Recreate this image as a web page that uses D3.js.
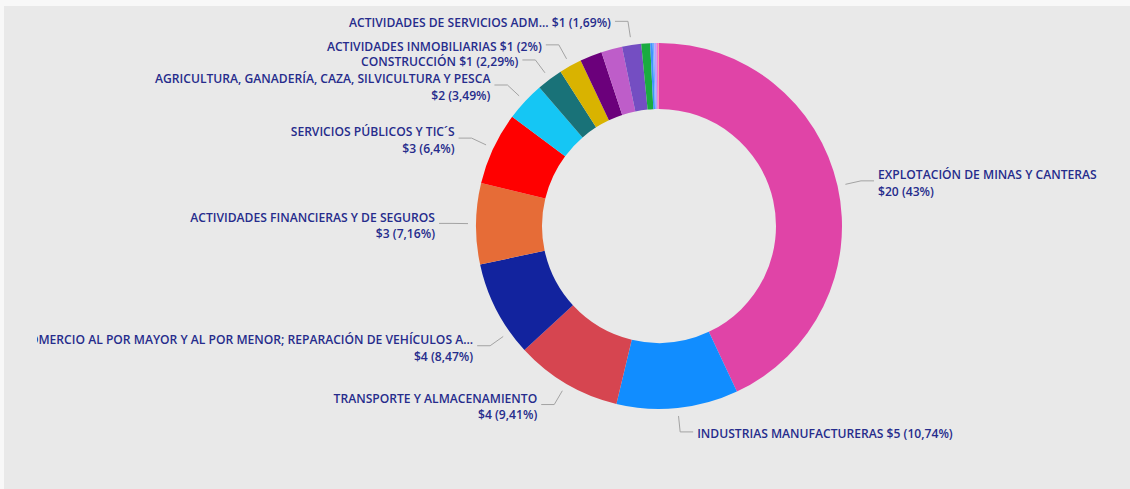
<!DOCTYPE html>
<html><head><meta charset="utf-8">
<script src="https://cdn.jsdelivr.net/npm/d3@7"></script>
<style>html,body{margin:0;padding:0;background:#f8f8f8;overflow:hidden}</style>
</head><body><svg id="chart" width="1130" height="489"></svg>
<script>
// ---- data ----
const categories = [
  "EXPLOTACIÓN DE MINAS Y CANTERAS",
  "INDUSTRIAS MANUFACTURERAS",
  "TRANSPORTE Y ALMACENAMIENTO",
  "COMERCIO AL POR MAYOR Y AL POR MENOR; REPARACIÓN DE VEHÍCULOS AUTOMOTORES Y MOTOCICLETAS",
  "ACTIVIDADES FINANCIERAS Y DE SEGUROS",
  "SERVICIOS PÚBLICOS Y TIC´S",
  "AGRICULTURA, GANADERÍA, CAZA, SILVICULTURA Y PESCA",
  "CONSTRUCCIÓN",
  "ACTIVIDADES INMOBILIARIAS",
  "ACTIVIDADES PROFESIONALES, CIENTÍFICAS Y TÉCNICAS",
  "ADMINISTRACIÓN PÚBLICA Y DEFENSA",
  "ACTIVIDADES DE SERVICIOS ADMINISTRATIVOS Y DE APOYO",
  "ALOJAMIENTO Y SERVICIOS DE COMIDA",
  "EDUCACIÓN",
  "ACTIVIDADES DE ATENCIÓN DE LA SALUD HUMANA",
  "ACTIVIDADES ARTÍSTICAS Y DE ENTRETENIMIENTO",
  "OTRAS ACTIVIDADES DE SERVICIOS",
  "ACTIVIDADES DE LOS HOGARES"
];
const shares  = [43, 10.74, 9.41, 8.47, 7.16, 6.4, 3.49, 2.29, 2, 1.95, 1.85, 1.69, 0.78, 0.22, 0.13, 0.2, 0.17, 0.05];
const amounts = [20, 5, 4, 4, 3, 3, 2, 1, 1, 1, 1, 1, 0, 0, 0, 0, 0, 0];
const colors  = ["#E044A7","#118DFF","#D64550","#12239E","#E66C37","#FF0000","#15C6F4","#197278","#D9B300",
                 "#6B007B","#BE5DC9","#744EC2","#1AAB40","#4092FF","#6FB2FF","#B5A1FF","#F472D0","#FF8A80"];

// ---- layout (code side) ----
const W = 1130, H = 489;
const cx = 659, cy = 226, R = 183, r0 = 117;
const labelCfg = {               // which slices get a label and how it is set
  0: {lines: 2}, 1: {lines: 1}, 2: {lines: 2}, 3: {lines: 2, maxChars: 63, frac: 0.24},
  4: {lines: 2}, 5: {lines: 2}, 6: {lines: 2}, 7: {lines: 1}, 8: {lines: 1},
  11: {lines: 1, maxChars: 28}
};
const textColor = "#262c8c";

const loc = d3.formatLocale({decimal: ",", thousands: ".", grouping: [3], currency: ["$", ""]});
const fmtPct = loc.format(".2~f");

const data = categories.map((c, i) => ({name: c, share: shares[i], amount: amounts[i], color: colors[i], i}));
const total = d3.sum(data, d => d.share);

const svg = d3.select("#chart");
svg.append("rect").attr("x", 4).attr("y", 6).attr("width", W - 4).attr("height", H - 6).attr("fill", "#e9e9e9");

svg.append("defs").append("clipPath").attr("id", "clip")
  .append("rect").attr("x", 37).attr("y", 6).attr("width", W - 37).attr("height", H - 6);

const pie = d3.pie().sort(null).value(d => d.share).startAngle(0).endAngle(2 * Math.PI);
const arcs = pie(data);
const arc = d3.arc().innerRadius(r0).outerRadius(R);

const g = svg.append("g").attr("transform", `translate(${cx},${cy})`);
g.selectAll("path.slice").data(arcs).join("path")
  .attr("class", "slice").attr("d", arc).attr("fill", d => d.data.color);

// font sizing to match reference text widths
const fontFamily = "'Open Sans', 'Noto Sans', sans-serif";
const probe = svg.append("text").attr("font-family", fontFamily).attr("font-weight", 600)
  .attr("font-size", 12).text("ACTIVIDADES FINANCIERAS Y DE SEGUROS");
const fs = Math.min(12.5, 12 * 245 / probe.node().getComputedTextLength());
probe.remove();

const lg = svg.append("g").attr("clip-path", "url(#clip)");
const pt = (a, rr) => [cx + rr * Math.sin(a), cy - rr * Math.cos(a)];

arcs.forEach(d => {
  const cfg = labelCfg[d.data.i];
  if (!cfg) return;
  const frac = cfg.frac ?? 0.5;
  const a = d.startAngle + (d.endAngle - d.startAngle) * frac;
  const p1 = pt(a, R + 8), p2 = pt(a, R + 24);
  const side = Math.sin(a) >= 0 ? 1 : -1;
  const p3 = [p2[0] + side * 13, p2[1]];
  lg.append("polyline").attr("points", [p1, p2, p3].map(p => p.join(",")).join(" "))
    .attr("fill", "none").attr("stroke", "#a3a3a3").attr("stroke-width", 1);
  let name = d.data.name;
  if (cfg.maxChars && name.length > cfg.maxChars) name = name.slice(0, cfg.maxChars) + "...";
  const val = "$" + d.data.amount + " (" + fmtPct(d.data.share / total * 100) + "%)";
  const lines = cfg.lines === 1 ? [name + " " + val] : [name, val];
  const t = lg.append("text")
    .attr("x", p3[0] + side * 4)
    .attr("text-anchor", side > 0 ? "start" : "end")
    .attr("font-family", fontFamily).attr("font-weight", 600).attr("font-size", fs)
    .attr("fill", textColor);
  if (lines.length === 1) {
    t.attr("y", p2[1] + 1.5).attr("dy", "0.36em").text(lines[0]);
  } else {
    t.append("tspan").attr("x", p3[0] + side * 4).attr("y", p2[1] - 6).attr("dy", "0.36em").text(lines[0]);
    t.append("tspan").attr("x", p3[0] + side * 4).attr("y", p2[1] + 10.5).attr("dy", "0.36em").text(lines[1]);
  }
});
</script></body></html>
